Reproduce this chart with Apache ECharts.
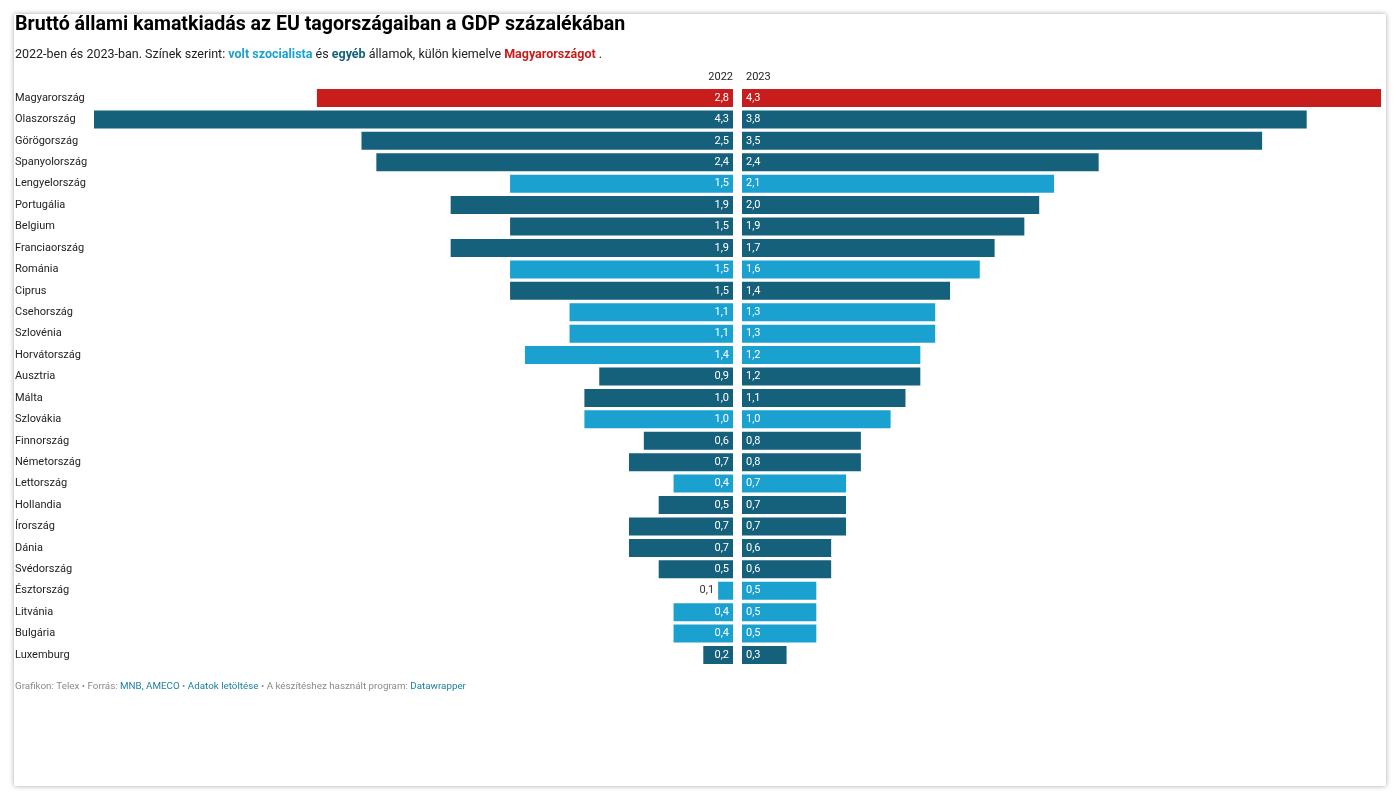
<!DOCTYPE html>
<html>
<head>
<meta charset="utf-8">
<script src="https://cdn.jsdelivr.net/npm/echarts@6/dist/echarts.min.js"></script>
<style>
html,body{margin:0;padding:0;background:#fff;}
#card{position:absolute;left:14px;top:14px;width:1372px;height:772px;background:#fff;box-shadow:0 0 5px rgba(0,0,0,0.35);}
#chart{position:absolute;left:0;top:0;width:1400px;height:800px;}
</style>
</head>
<body>
<div id="card"></div>
<div id="chart"></div>
<script>
const categories = ['Magyarország','Olaszország','Görögország','Spanyolország','Lengyelország','Portugália','Belgium','Franciaország','Románia','Ciprus','Csehország','Szlovénia','Horvátország','Ausztria','Málta','Szlovákia','Finnország','Németország','Lettország','Hollandia','Írország','Dánia','Svédország','Észtország','Litvánia','Bulgária','Luxemburg'];
const values2022 = [2.8,4.3,2.5,2.4,1.5,1.9,1.5,1.9,1.5,1.5,1.1,1.1,1.4,0.9,1.0,1.0,0.6,0.7,0.4,0.5,0.7,0.7,0.5,0.1,0.4,0.4,0.2];
const values2023 = [4.3,3.8,3.5,2.4,2.1,2.0,1.9,1.7,1.6,1.4,1.3,1.3,1.2,1.2,1.1,1.0,0.8,0.8,0.7,0.7,0.7,0.6,0.6,0.5,0.5,0.5,0.3];
const groups = ['hu','other','other','other','ex','other','other','other','ex','other','ex','ex','ex','other','other','ex','other','other','ex','other','other','other','other','ex','ex','ex','other'];
const yearLabels = ['2022','2023'];

const colors = {hu:'#c71e1d', ex:'#1aa1cf', other:'#15607a'};
const fmt = v => v.toFixed(1).replace('.', ',');
const chart = echarts.init(document.getElementById('chart'));
const font = 'Roboto';
const MAX = 4.3;

function seriesData(vals, left) {
  return vals.map((v, i) => {
    const d = {value: v, itemStyle: {color: colors[groups[i]]}};
    if (left && v < 0.15) {
      d.label = {position: 'left', distance: 4, color: '#333'};
    }
    return d;
  });
}

const gridTop = 87.3, gridBottom = 800 - 665.7;
const option = {
  backgroundColor: 'transparent',
  animation: false,
  textStyle: {fontFamily: font},
  title: {
    text: 'Bruttó állami kamatkiadás az EU tagországaiban a GDP százalékában',
    left: 15, top: 15, padding: 0,
    textStyle: {fontFamily: font, fontSize: 19.6, fontWeight: 'bold', color: '#000'}
  },
  graphic: [
    {type: 'text', left: 15, top: 48.5, style: {
      text: '2022-ben és 2023-ban. Színek szerint: {a|volt szocialista} és {b|egyéb} államok, külön kiemelve {c|Magyarországot} .',
      font: '12.5px Roboto', fill: '#222',
      rich: {
        a: {font: 'bold 12.5px Roboto', fill: '#1aa1cf'},
        b: {font: 'bold 12.5px Roboto', fill: '#15607a'},
        c: {font: 'bold 12.5px Roboto', fill: '#c71e1d'}
      }
    }},
    {type: 'text', right: 1400 - 733, top: 71.5, style: {text: yearLabels[0], font: '11px Roboto', fill: '#222'}},
    {type: 'text', left: 746, top: 71.5, style: {text: yearLabels[1], font: '11px Roboto', fill: '#222'}},
    {type: 'text', left: 15, top: 682, style: {
      text: 'Grafikon: Telex • Forrás: {l|MNB, AMECO} • {l|Adatok letöltése} • A készítéshez használt program: {l|Datawrapper}',
      font: '9.8px Roboto', fill: '#8a8a8a',
      rich: {l: {font: '9.8px Roboto', fill: '#1d81a2'}}
    }}
  ],
  grid: [
    {left: 94, right: 1400 - 733, top: gridTop, bottom: gridBottom},
    {left: 742, right: 1400 - 1381, top: gridTop, bottom: gridBottom}
  ],
  xAxis: [
    {gridIndex: 0, type: 'value', min: 0, max: MAX, inverse: true, show: false},
    {gridIndex: 1, type: 'value', min: 0, max: MAX, show: false}
  ],
  yAxis: [
    {gridIndex: 0, type: 'category', data: categories, inverse: true, position: 'left',
      axisLine: {show: false, onZero: false}, axisTick: {show: false},
      axisLabel: {align: 'left', margin: 79, fontFamily: font, fontSize: 11, color: '#222'}},
    {gridIndex: 1, type: 'category', data: categories, inverse: true,
      axisLine: {show: false}, axisTick: {show: false}, axisLabel: {show: false}}
  ],
  series: [
    {type: 'bar', name: yearLabels[0], xAxisIndex: 0, yAxisIndex: 0, barWidth: 18,
      data: seriesData(values2022, true),
      label: {show: true, position: 'insideRight', distance: 4, color: '#fff', fontFamily: font, fontSize: 11,
        formatter: p => fmt(p.value)}},
    {type: 'bar', name: yearLabels[1], xAxisIndex: 1, yAxisIndex: 1, barWidth: 18,
      data: seriesData(values2023, false),
      label: {show: true, position: 'insideLeft', distance: 4, color: '#fff', fontFamily: font, fontSize: 11,
        formatter: p => fmt(p.value)}}
  ]
};
chart.setOption(option);
</script>
</body>
</html>
